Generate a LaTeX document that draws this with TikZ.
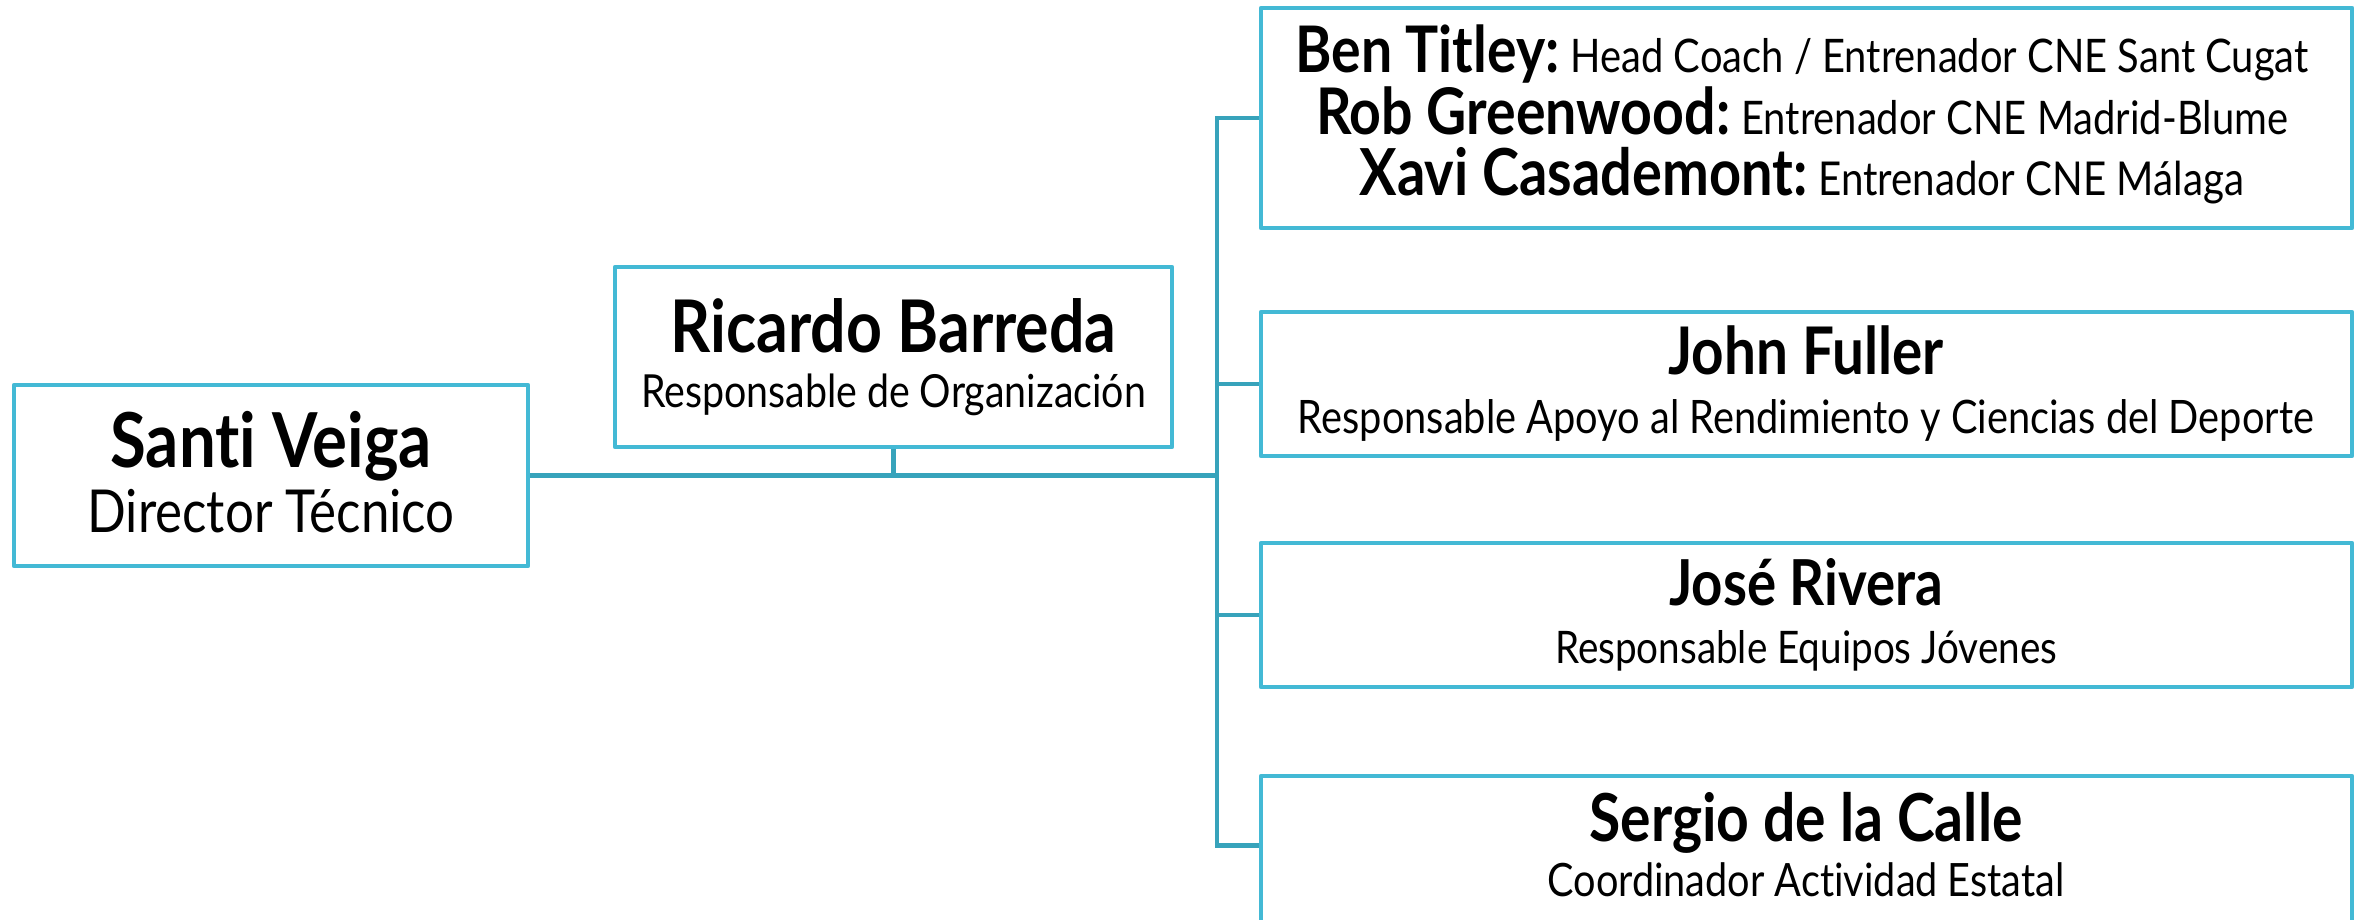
\documentclass[tikz,border=0pt]{standalone}
\usepackage{fontspec}
\setmainfont{Lato}[Ligatures=NoCommon]
\usepackage{graphicx}
\usetikzlibrary{calc}
\definecolor{boxblue}{HTML}{43B9D5}
\definecolor{lineblue}{HTML}{37A3BB}
\newcommand{\fitw}[2]{\scalebox{1}[1.16]{\resizebox{#1pt}{!}{#2}}}
\newcommand{\tsize}{\fontsize{50}{60}\selectfont\bfseries}
\newcommand{\ssize}{\fontsize{36}{44}\selectfont}
\begin{document}
\begin{tikzpicture}[x=1pt,y=-1pt,
  orgbox/.style={draw=boxblue, line width=4.8pt, fill=white, inner sep=0pt, line join=round},
  conn/.style={draw=lineblue, line width=4.8pt},
  txt/.style={inner sep=0pt, outer sep=0pt, anchor=base, text=black}]
\useasboundingbox (0,0) rectangle (2357,920);
% boxes
\node[orgbox, minimum width=514pt, minimum height=181pt] (santi) at (271,475.5) {};
\node[orgbox, minimum width=557pt, minimum height=180pt] (ricardo) at (893.5,357) {};
\node[orgbox, minimum width=1091pt, minimum height=220pt] (ben) at (1806.5,118) {};
\node[orgbox, minimum width=1091pt, minimum height=144pt] (john) at (1806.5,384) {};
\node[orgbox, minimum width=1091pt, minimum height=144pt] (jose) at (1806.5,615) {};
\node[orgbox, minimum width=1091pt, minimum height=150pt] (sergio) at (1806.5,851) {};
% connectors
\coordinate (busmid) at (1217,475.5);
\coordinate (sergioin) at ($(sergio.north west)+(0,72)$);
\draw[conn] (santi.east) -- (busmid);
\draw[conn] (ricardo.south) -- (ricardo.south |- busmid);
\draw[conn] (ben.west) -| (sergioin -| busmid) -- (sergioin);
\draw[conn] (john.west) -- (john.west -| busmid);
\draw[conn] (jose.west) -- (jose.west -| busmid);
% texts
\node[txt] (santi1) at (271,467) {\fitw{321}{\tsize Santi Veiga}};
\node[txt] (santi2) at (271,532) {\fitw{367}{\ssize Director Técnico}};
\node[txt] (ric1) at (893.5,352) {\fitw{446}{\tsize Ricardo Barreda}};
\node[txt] (ric2) at (893.5,407) {\fitw{505}{\ssize Responsable de Organización}};
\node[txt] (ben1) at (1802,73) {\fitw{1013}{{\tsize Ben Titley:}\hspace{10pt}{\ssize Head Coach / Entrenador CNE Sant Cugat}}};
\node[txt] (ben2) at (1802,135) {\fitw{972}{{\tsize Rob Greenwood:}\hspace{10pt}{\ssize Entrenador CNE Madrid-Blume}}};
\node[txt] (ben3) at (1802,196) {\fitw{884}{{\tsize Xavi Casademont:}\hspace{10pt}{\ssize Entrenador CNE Málaga}}};
\node[txt] (john1) at (1806,374) {\fitw{275}{\tsize John Fuller}};
\node[txt] (john2) at (1806,433) {\fitw{1016}{\ssize Responsable Apoyo al Rendimiento y Ciencias del Deporte}};
\node[txt] (jose1) at (1806,605) {\fitw{274}{\tsize José Rivera}};
\node[txt] (jose2) at (1806,663) {\fitw{502}{\ssize Responsable Equipos Jóvenes}};
\node[txt] (serg1) at (1806,841) {\fitw{433}{\tsize Sergio de la Calle}};
\node[txt] (serg2) at (1806,896) {\fitw{517}{\ssize Coordinador Actividad Estatal}};
\end{tikzpicture}
\end{document}
